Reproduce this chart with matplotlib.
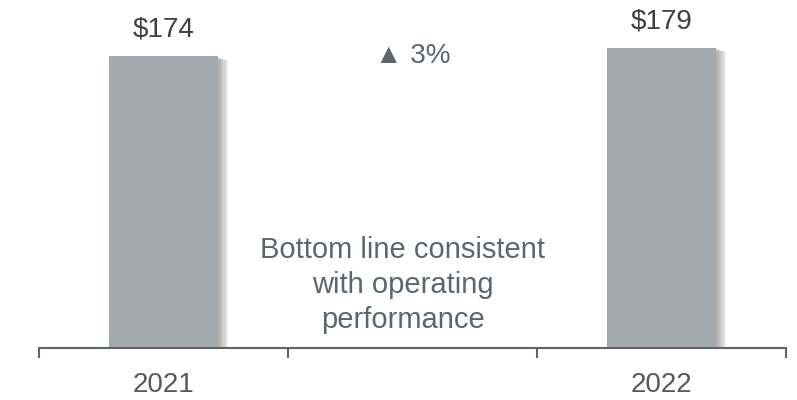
import matplotlib
matplotlib.use("Agg")
import matplotlib.pyplot as plt
import matplotlib.patheffects as pe

# net income, $ millions
years = ["2021", "2022"]
net_income = [174, 179]
change_label = "\u25b2 3%"
note = "Bottom line consistent\nwith operating\nperformance"

bar_color = "#a3aaad"
value_color = "#404040"
note_color = "#5b6770"
axis_color = "#5f6468"

plt.rcParams["font.family"] = ["Liberation Sans", "DejaVu Sans"]

fig = plt.figure(figsize=(7.97, 4.0), dpi=100)
ax = fig.add_axes([39 / 797, 52 / 400, 747 / 797, 348 / 400])

# three slots: first year, gap for the note, second year
xpos = [0, 2]

# soft drop shadow built up from a few offset copies
shadow = [pe.SimplePatchShadow(offset=(i * 0.9, -i * 0.35), shadow_rgbFace="#555555", alpha=0.07)
          for i in range(1, 9)]
bars = ax.bar(xpos, net_income, width=0.44, color=bar_color, zorder=2,
              path_effects=shadow + [pe.Normal()])

for x, v in zip(xpos, net_income):
    ax.annotate(f"${v}", (x, v), xytext=(0, 14), textcoords="offset points",
                ha="center", va="baseline", fontsize=20, color=value_color)

ax.text(1, 170, change_label, ha="center", va="baseline", fontsize=20, color=note_color)
ax.text(0.96, 0.181, note, transform=ax.get_xaxis_transform(), ha="center", va="center",
        fontsize=21, color=note_color, linespacing=1.33)

ax.set_xlim(-0.5, 2.5)
ax.set_ylim(0, 207.5)

for s in ["top", "left", "right"]:
    ax.spines[s].set_visible(False)
ax.spines["bottom"].set_color(axis_color)
ax.spines["bottom"].set_linewidth(1.5)
ax.spines["bottom"].set_zorder(3)

ax.set_yticks([])
ax.set_xticks([-0.5, 0.5, 1.5, 2.5])
ax.set_xticklabels([])
ax.tick_params(axis="x", which="major", length=7.2, width=1.5, color=axis_color, direction="out")
ax.set_xticks(xpos, minor=True)
ax.set_xticklabels(years, minor=True)
ax.tick_params(axis="x", which="minor", length=0, pad=17.5, labelsize=20, labelcolor="#595959")

fig.savefig("out.png", dpi=100)
